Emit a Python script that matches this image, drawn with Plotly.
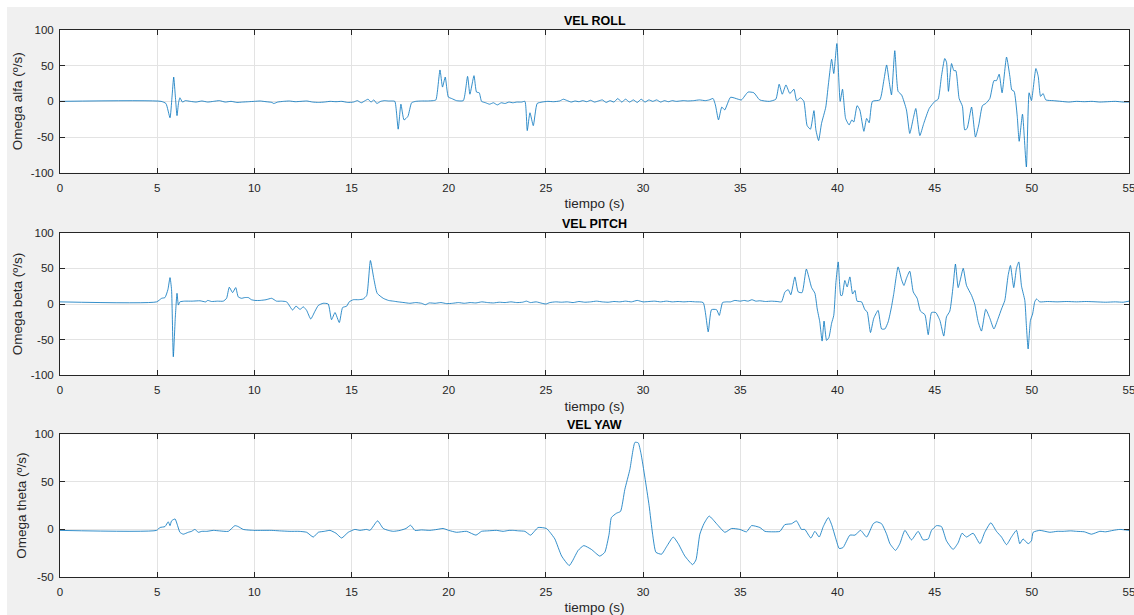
import plotly.graph_objects as go
from plotly.subplots import make_subplots

# ---- angular rate data (time in s, rate in deg/s) ----
roll_t = [0, 5.2, 5.45, 5.66, 5.76, 5.85, 5.94, 6.02, 6.1, 6.17, 6.3, 6.45,
          6.7, 7.0, 7.3, 7.6, 7.9, 8.2, 8.5, 8.8, 9.1, 9.4, 9.7, 10.0, 10.3, 10.6, 10.9, 11.0,
          11.2, 11.5, 11.8, 12.1, 12.4, 12.7, 13.0, 13.3, 13.6, 13.9, 14.2, 14.5, 14.8, 15.1,
          15.3, 15.5, 15.7, 15.85, 16.0, 16.15, 16.3, 16.5, 16.7, 16.9, 17.1, 17.23,
          17.4, 17.54, 17.7, 17.9, 18.09, 18.3, 18.6, 18.9, 19.2, 19.34,
          19.55, 19.68, 19.82, 19.98, 20.15, 20.4, 20.75,
          20.97, 21.09, 21.3, 21.43, 21.57, 21.69,
          21.9, 22.1, 22.3, 22.5, 22.7, 22.9, 23.1, 23.3, 23.5, 23.75, 23.92,
          24.04, 24.18, 24.35, 24.55,
          24.8, 25.1, 25.4, 25.7, 25.9, 26.1, 26.3, 26.5, 26.7, 26.9, 27.1, 27.3, 27.5, 27.7,
          27.9, 28.1, 28.3, 28.5, 28.7, 28.9, 29.1, 29.3, 29.5, 29.7, 29.9, 30.1, 30.3, 30.5,
          30.7, 30.9, 31.1, 31.3, 31.5, 31.7, 31.9, 32.1, 32.3, 32.6, 32.9, 33.2, 33.4, 33.6,
          33.72, 33.88, 34.05, 34.2, 34.5, 34.89, 35.06, 35.4, 35.7, 36.0, 36.5, 36.83,
          37.0, 37.16, 37.35, 37.55, 37.76, 37.9, 38.1, 38.27, 38.44, 38.61, 38.79, 38.89,
          39.03, 39.18, 39.4, 39.53, 39.7, 39.81, 39.97, 40.14, 40.26, 40.42, 40.6, 40.74,
          40.84, 41.01, 41.15, 41.36, 41.5, 41.63, 41.8, 42.18, 42.39, 42.53, 42.66, 42.78,
          42.95, 43.12, 43.3, 43.55, 43.72, 43.9, 44.03, 44.24, 44.44, 44.72, 45.01, 45.18,
          45.35, 45.52, 45.61, 45.71, 45.87, 45.99, 46.09, 46.26, 46.43, 46.55, 46.67, 46.9,
          47.1, 47.27, 47.46, 47.63, 47.84, 48.05, 48.18, 48.32, 48.47, 48.7, 48.87, 48.97,
          49.09, 49.25, 49.35, 49.52, 49.72, 49.86, 49.98, 50.21, 50.33, 50.45, 50.58, 50.72,
          51.1, 51.5, 51.9, 52.3, 52.7, 53.1, 53.5, 53.9, 54.3, 54.7, 55]
roll_v = [0, 0, -3, -23, 5, 34, 5, -20, -2, 5, -1, 1,
          0, -1, 0.5, -1, 0, 1, -1, 0, -1.5, -1, -0.5, 0, 0.5, -0.5, -1.5, -3,
          -1, 0, 0.5, -0.5, 0, 0.5, -1, -1.5, -1, 0, -0.5, 0, -1.5, -1,
          1, -2, 1, 3, -1, 2, -3, 0, 1, 0.5, 0.5, 0,
          -39, -4, -26, -21, -2, 0, 0.5, 0.5, 1, 2,
          44, 20, 34, 6, 4, 1, 1,
          35, 10, 36, 13, 12, 0,
          -2, -4, -2, -5, -2, -3, -1, -2, -1, -1, 0,
          -41, -16, -34, -3,
          -1, 0, -0.5, 0.5, 3, 1, -1, 0.5, -0.5, 1, -0.5, 1.5, -1, 0.5,
          2, -1.5, 1, -1, 4, -1, 3, -1, 2, -1.5, 3, -1, 2, 0,
          2, -1, 1, -0.5, 1, 0, 0.5, 1, 0.5, 1, 2, 1, 2, 4,
          -5, -26, -8, -12, 5.7, 3, 2, 13, 12, 2, 0, 3,
          24, 10, 23, 11, 17, 1, 5, 0, -34, -39, -13, -40,
          -55, -31, -8, 23, 59, 39, 81, 0, 17, -24, -33, -26,
          -29, -6, -12, -42, -24, -30, 0, 2, 30, 51, 28, 9,
          71, 14, 9, -12, -45, -24, -10, -48, -31, -10, 0, 3,
          35, 60, 55, 14, 53, 43, 43, 4, -7, -40, -38, -8,
          -50, -33, -6, -3, 4, 29, 29, 38, 12, 62, 35, 16,
          14, -21, -56, -18, -92, 12, 1, 46, 35, 7, 11, 2,
          1, 0, -1, 0, -0.5, 0, -1, -0.5, 0, -1, -1]

pitch_t = [0, 4.97, 5.23, 5.4, 5.55, 5.66, 5.74, 5.83, 5.93, 6.02, 6.09, 6.17, 6.4, 6.8,
           7.2, 7.5, 7.6, 7.8, 8.1, 8.4, 8.57, 8.71, 8.88, 9.04, 9.17, 9.34, 9.5, 9.69, 9.85,
           10.03, 10.3, 10.6, 10.89, 11.14, 11.4, 11.66, 11.97, 12.14, 12.35, 12.52, 12.69,
           12.9, 13.12, 13.29, 13.54, 13.8, 13.97, 14.15, 14.37, 14.54, 14.75, 14.88, 15.09,
           15.35, 15.6, 15.78, 15.97, 16.15, 16.32, 16.63, 16.9, 17.15, 17.4, 17.7, 18.0,
           18.3, 18.6, 18.8, 19.0, 19.3, 19.6, 19.9, 20.2, 20.5, 20.8, 21.1, 21.4, 21.7, 22.0,
           22.3, 22.6, 22.9, 23.2, 23.5, 23.8, 24.0, 24.2, 24.5, 24.8, 25.0, 25.2, 25.5, 25.8,
           26.1, 26.4, 26.7, 27.0, 27.3, 27.6, 27.9, 28.2, 28.5, 28.8, 29.1, 29.4, 29.7, 30.0,
           30.3, 30.6, 30.9, 31.2, 31.5, 31.8, 32.1, 32.4, 32.7, 33.09, 33.35, 33.52, 33.78,
           33.92, 34.09, 34.29, 34.5, 34.72, 35.0, 35.2, 35.4, 35.6, 35.8, 36.0, 36.3, 36.6,
           36.9, 37.12, 37.3, 37.47, 37.6, 37.81, 37.98, 38.18, 38.4, 38.67, 38.84, 38.96,
           39.09, 39.21, 39.31, 39.44, 39.56, 39.7, 39.81, 39.92, 40.04, 40.17, 40.24, 40.38,
           40.5, 40.64, 40.78, 40.9, 41.01, 41.24, 41.41, 41.53, 41.7, 41.87, 42.09, 42.27,
           42.44, 42.61, 42.78, 42.9, 43.12, 43.3, 43.42, 43.55, 43.72, 43.9, 44.1, 44.27,
           44.5, 44.67, 44.84, 45.06, 45.27, 45.47, 45.61, 45.78, 45.95, 46.07, 46.21, 46.33,
           46.47, 46.64, 46.9, 47.07, 47.24, 47.41, 47.63, 47.84, 48.05, 48.27, 48.44, 48.61,
           48.78, 48.9, 49.07, 49.21, 49.33, 49.47, 49.64, 49.72, 49.81, 49.93, 50.04, 50.15,
           50.24, 50.41, 50.8, 51.3, 51.8, 52.3, 52.8, 53.3, 53.8, 54.3, 54.7, 55]
pitch_v = [3, 3, 8, 9, 20, 37, 20, -74, -20, 15, -1.5, 3, 4, 4,
           4.5, 3, 5, 3.5, 4, 4, 8, 23.5, 16, 23, 10, 8, 9, 9, 6,
           5, 5, 6, 8, 4, 4, 3, -8.5, -3, -7.5, -4, -9,
           -21, -10, -2, 1, 0, -22, -12, -26, -5, -3, 3, 6,
           6, 7, 12, 61, 35, 15, 8, 5, 4, 3, 2, 1,
           2, 1, -1, 1.5, 1, 2, 0.5, 1, 2, 1, 2, 1.5, 3, 2,
           1.5, 2.5, 2, 3, 2, 2.5, 4, 2, 3, 1, 0, 2, 3, 2.5,
           3, 2, 3.5, 2.5, 3, 4, 3, 2.5, 3.5, 3, 4, 3, 5, 3,
           3.5, 4, 3, 4, 3, 3.5, 3, 3.5, 3, 2, -39, -8, -8,
           -16, 2, 3, 3, 5, 4, 5, 4, 6, 4, 4.5, 3.5, 4,
           3.5, 3, 17, 20, 13, 38, 17, 16, 49, 23, 15, -7,
           -25, -52, -24, -51, -47, -27, -16, 30, 59, 12, 12, 33,
           24, 38, 14, 19, 4, 3, -8, -11, -40, -20, -9, -35,
           -35, -25, -4, 15, 52, 34, 26, 36, 46, 17, 8, -10,
           -15, -43, -12, -12, -23, -45, -18, -10, 25, 56, 23, 35,
           50, 26, 12, -1, -25, -38, -7.5, -20, -35, -20, -7, 5,
           40, 54, 23, 50, 59, 25, 5, -30, -63, -23, -14, 3,
           7, 3, 3.5, 3, 3.5, 3, 3.5, 3, 2.5, 3, 2.5, 4]

yaw_t = [0, 4.97, 5.14, 5.4, 5.57, 5.66, 5.74, 5.92, 6.05, 6.17, 6.34, 6.6, 6.77, 6.94,
         7.12, 7.3, 7.55, 7.89, 8.2, 8.66, 9.0, 9.17, 9.43, 9.95, 10.4, 10.89, 11.3, 11.83,
         12.3, 12.69, 13.03, 13.29, 13.6, 13.89, 14.2, 14.49, 14.83, 15.17, 15.43, 15.78,
         15.95, 16.34, 16.63, 16.89, 17.15, 17.5, 17.8, 18.04, 18.26, 18.6, 19.03, 19.4,
         19.71, 20.0, 20.4, 20.92, 21.4, 21.69, 22.0, 22.46, 22.8, 23.1, 23.32, 23.6, 23.92,
         24.21, 24.6, 25.03, 25.21, 25.46, 25.81, 26.2, 26.37, 26.66, 26.95, 27.34, 27.77,
         28.03, 28.25, 28.37, 28.63, 28.84, 29.06, 29.32, 29.58, 29.75, 29.89, 30.09, 30.31,
         30.49, 30.66, 30.95, 31.21, 31.55, 31.81, 32.15, 32.55, 32.72, 32.92, 33.13, 33.4,
         33.78, 34.21, 34.55, 34.98, 35.32, 35.58, 36.01, 36.27, 36.6, 37.04, 37.29, 37.64,
         37.89, 38.15, 38.32, 38.63, 38.84, 39.06, 39.27, 39.53, 39.7, 39.92, 40.09, 40.29,
         40.64, 40.9, 41.19, 41.5, 41.84, 42.01, 42.27, 42.53, 42.7, 42.99, 43.21, 43.47,
         43.81, 44.15, 44.41, 44.67, 44.84, 45.1, 45.35, 45.61, 45.95, 46.21, 46.41, 46.64,
         46.98, 47.33, 47.58, 47.89, 48.18, 48.44, 48.7, 48.95, 49.21, 49.38, 49.55, 49.81,
         49.98, 50.07, 50.41, 50.93, 51.3, 51.61, 52.0, 52.3, 52.7, 53.07, 53.5, 53.8, 54.18,
         54.53, 55]
yaw_v = [-1, -1, 2, 3, 8, 4, 9, 11, 4, -3, -5, -3, -2, 0,
         -3, -2, -2, -1, -1.5, -2, 4, 3, 0, -1, -1, -1, -1.5, -2,
         -2, -3, -8, -3, -2, -1, -4, -9, -3, 0, -1, 0,
         -1, 9, 1, -1, -2, -1, 1, 4.4, -1, -0.5, -1, 0,
         1, -1, -3, -2, -6, -2, -1.5, -1, -2, -1, -1, -1.5, -2,
         -6, 2, 1, -3, -10, -28, -38, -33, -22, -17, -21, -28,
         -24, -5, 12.5, 17, 19, 42, 63, 91.5, 91, 80, 55, 25,
         -5, -24, -26, -18, -8, -15, -28, -37, -32, -5, 6, 14,
         6, -3, 1, 0, -2.5, 4, 2, -2, -2.5, -2, 5, 6,
         9, 0, 0, -9, -2, -8, 3, 12.5, 5, -10, -20, -19,
         -6, -6, -1, -8, 6, 8, 6, -5, -15, -22, -15, -1,
         -11, -2, -11, -10, -1, 4, 3, -12, -21, -14, -4, -8,
         -4, -15, -3, 7, -2, -8, -16, -8, -1, -15, -10, -15,
         -12, -3, -1, -3, -2, -2, -1.5, -2, -2.5, -5, -2, -2.5, -1,
         0, -1]

x_ticks = [0, 5, 10, 15, 20, 25, 30, 35, 40, 45, 50, 55]
y_ticks_rp = [-100, -50, 0, 50, 100]
y_ticks_yaw = [-50, 0, 50, 100]

titles = ["VEL ROLL", "VEL PITCH", "VEL YAW"]
y_labels = ["Omega alfa (º/s)", "Omega beta (º/s)", "Omega theta (º/s)"]
x_label = "tiempo (s)"

# ---- figure ----
W, H = 1134, 615
ML, MR, MT, MB = 60, 5, 30, 38
plot_h = H - MT - MB
plot_w = W - ML - MR

def dom(top_px, bot_px):
    return [(H - MB - bot_px) / plot_h, (H - MB - top_px) / plot_h]

domains = [dom(30, 172.7), dom(232.7, 375.3), dom(434.3, 577)]

fig = make_subplots(rows=3, cols=1)

series = [(roll_t, roll_v), (pitch_t, pitch_v), (yaw_t, yaw_v)]
for i, (t, v) in enumerate(series):
    fig.add_trace(go.Scatter(x=t, y=v, mode="lines",
                             line=dict(color="#0072BD", width=0.8, shape="spline", smoothing=0.5),
                             showlegend=False, hoverinfo="skip"),
                  row=i + 1, col=1)

FONT = "Liberation Sans, Arial, Helvetica, sans-serif"
DARK = "#262626"
tick_font = dict(family=FONT, size=11.5, color=DARK)
label_font = dict(family=FONT, size=13.5, color=DARK)

for i in range(3):
    xa = "xaxis" if i == 0 else f"xaxis{i + 1}"
    ya = "yaxis" if i == 0 else f"yaxis{i + 1}"
    fig.layout[xa].update(
        domain=[0, 1], range=[0, 55], tickvals=x_ticks, ticktext=[str(v) for v in x_ticks],
        showline=True, linecolor=DARK, linewidth=1, mirror="allticks",
        ticks="inside", ticklen=5, tickcolor=DARK, tickwidth=1,
        showgrid=True, gridcolor="#e3e3e3", gridwidth=1, zeroline=False,
        tickfont=tick_font, ticklabelstandoff=4, ticklabeloverflow="allow",
        automargin=False,
        title=dict(text=x_label, font=label_font, standoff=6),
    )
    yt = y_ticks_yaw if i == 2 else y_ticks_rp
    fig.layout[ya].update(
        domain=domains[i], range=[yt[0], yt[-1]], tickvals=yt, ticktext=[str(v) for v in yt],
        showline=True, linecolor=DARK, linewidth=1, mirror="allticks",
        ticks="inside", ticklen=5, tickcolor=DARK, tickwidth=1,
        showgrid=True, gridcolor="#e3e3e3", gridwidth=1, zeroline=False,
        tickfont=tick_font, ticklabelstandoff=3, ticklabeloverflow="allow",
        automargin=False,
        title=dict(text=y_labels[i], font=label_font, standoff=4),
    )
    top_frac = domains[i][1]
    fig.add_annotation(
        text=f"<b>{titles[i]}</b>", xref="paper", yref="paper",
        x=0.5, y=top_frac, yshift=0, xanchor="center", yanchor="bottom",
        showarrow=False, font=dict(family=FONT, size=12.5, color="#000000"),
    )

# thin white border along the top and left of the grey figure area
fig.add_shape(type="rect", xref="paper", yref="paper", layer="above",
              x0=-ML / plot_w, x1=(W - ML) / plot_w,
              y0=(H - 7 - MB) / plot_h, y1=(H - MB) / plot_h,
              fillcolor="#ffffff", line=dict(width=0))
fig.add_shape(type="rect", xref="paper", yref="paper", layer="above",
              x0=-ML / plot_w, x1=(7 - ML) / plot_w,
              y0=-MB / plot_h, y1=(H - MB) / plot_h,
              fillcolor="#ffffff", line=dict(width=0))

fig.update_layout(
    width=W, height=H, autosize=False,
    margin=dict(l=ML, r=MR, t=MT, b=MB, pad=0),
    paper_bgcolor="#f0f0f0", plot_bgcolor="#ffffff",
    font=dict(family=FONT, color=DARK),
)

fig.write_html("out.html", config={"displayModeBar": False})
